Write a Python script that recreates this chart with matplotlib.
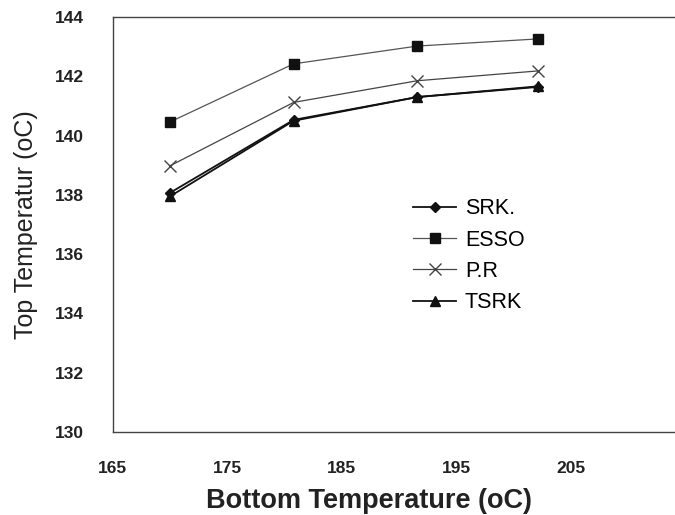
import matplotlib
matplotlib.use("Agg")
import matplotlib.pyplot as plt

bottom_temp = [170, 180.8, 191.6, 202.1]
srk = [138.07, 140.53, 141.3, 141.64]
esso = [140.46, 142.42, 143.02, 143.26]
pr = [138.98, 141.12, 141.85, 142.18]
tsrk = [137.95, 140.5, 141.3, 141.66]
series_names = ["SRK.", "ESSO", "P.R", "TSRK"]
xticks = [165, 175, 185, 195, 205]
yticks = [130, 132, 134, 136, 138, 140, 142, 144]

plt.rcParams['font.family'] = ['Liberation Sans', 'DejaVu Sans']
fig = plt.figure(figsize=(6.75, 5.15), dpi=100)
ax = fig.add_axes([0.167, 0.161, 0.833, 0.806])

ax.plot(bottom_temp, srk, color='#111111', lw=1.3, marker='D', ms=5.5, label=series_names[0])
ax.plot(bottom_temp, esso, color='#555555', lw=0.9, marker='s', ms=6.5, mfc='#111111', mec='#111111', label=series_names[1])
ax.plot(bottom_temp, pr, color='#444444', lw=0.9, marker='x', ms=9, mew=1.0, label=series_names[2])
ax.plot(bottom_temp, tsrk, color='#111111', lw=1.3, marker='^', ms=7, label=series_names[3])

ax.set_xlim(165, 214.1)
ax.set_ylim(130, 144)
ax.set_xticks(xticks)
ax.set_yticks(yticks)
ax.tick_params(length=0, labelsize=12.5)
ax.tick_params(axis='y', pad=21)
ax.tick_params(axis='x', pad=21)
for lab in ax.get_xticklabels() + ax.get_yticklabels():
    lab.set_fontweight('bold')
    lab.set_color('#222222')
ax.spines['right'].set_visible(False)
for s in ['left', 'top', 'bottom']:
    ax.spines[s].set_color('#444444')
    ax.spines[s].set_linewidth(1.0)

ax.set_xlabel("Bottom Temperature (oC)", fontsize=19.5, fontweight='bold', color='#222222')
ax.xaxis.set_label_coords(0.455, -0.135)
ax.set_ylabel("Top Temperatur (oC)", fontsize=18, labelpad=12, color='#222222')

leg = ax.legend(loc='upper left', bbox_to_anchor=(0.5, 0.61), frameon=False,
                fontsize=15.5, handlelength=2.0, labelspacing=0.48, handletextpad=0.4)

fig.savefig("out.png", dpi=100)
